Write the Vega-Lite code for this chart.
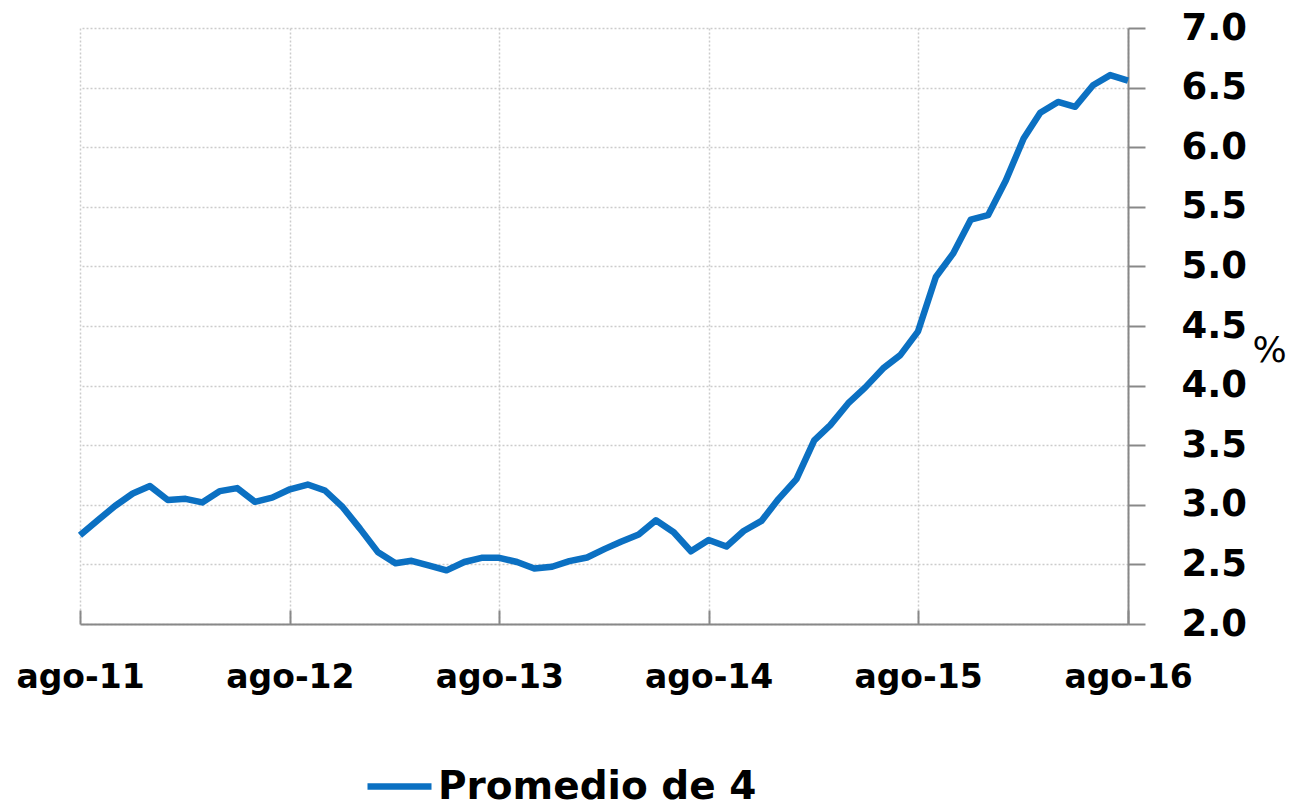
{
  "$schema": "https://vega.github.io/schema/vega-lite/v6.json",
  "autosize": {"type": "none"},
  "padding": {"left": 80, "top": 28, "right": 166, "bottom": 183},
  "width": 1048,
  "height": 596,
  "background": "white",
  "config": {
    "view": {"stroke": null},
    "font": "DejaVu Sans"
  },
  "data": {
    "values": [
      {"fecha": "2011-08-01", "valor": 2.745, "serie": "Promedio de 4"},
      {"fecha": "2011-09-01", "valor": 2.87, "serie": "Promedio de 4"},
      {"fecha": "2011-10-01", "valor": 2.99, "serie": "Promedio de 4"},
      {"fecha": "2011-11-01", "valor": 3.095, "serie": "Promedio de 4"},
      {"fecha": "2011-12-01", "valor": 3.157, "serie": "Promedio de 4"},
      {"fecha": "2012-01-01", "valor": 3.04, "serie": "Promedio de 4"},
      {"fecha": "2012-02-01", "valor": 3.05, "serie": "Promedio de 4"},
      {"fecha": "2012-03-01", "valor": 3.02, "serie": "Promedio de 4"},
      {"fecha": "2012-04-01", "valor": 3.115, "serie": "Promedio de 4"},
      {"fecha": "2012-05-01", "valor": 3.14, "serie": "Promedio de 4"},
      {"fecha": "2012-06-01", "valor": 3.025, "serie": "Promedio de 4"},
      {"fecha": "2012-07-01", "valor": 3.06, "serie": "Promedio de 4"},
      {"fecha": "2012-08-01", "valor": 3.13, "serie": "Promedio de 4"},
      {"fecha": "2012-09-01", "valor": 3.17, "serie": "Promedio de 4"},
      {"fecha": "2012-10-01", "valor": 3.12, "serie": "Promedio de 4"},
      {"fecha": "2012-11-01", "valor": 2.98, "serie": "Promedio de 4"},
      {"fecha": "2012-12-01", "valor": 2.8, "serie": "Promedio de 4"},
      {"fecha": "2013-01-01", "valor": 2.605, "serie": "Promedio de 4"},
      {"fecha": "2013-02-01", "valor": 2.51, "serie": "Promedio de 4"},
      {"fecha": "2013-03-01", "valor": 2.53, "serie": "Promedio de 4"},
      {"fecha": "2013-04-01", "valor": 2.49, "serie": "Promedio de 4"},
      {"fecha": "2013-05-01", "valor": 2.45, "serie": "Promedio de 4"},
      {"fecha": "2013-06-01", "valor": 2.52, "serie": "Promedio de 4"},
      {"fecha": "2013-07-01", "valor": 2.555, "serie": "Promedio de 4"},
      {"fecha": "2013-08-01", "valor": 2.555, "serie": "Promedio de 4"},
      {"fecha": "2013-09-01", "valor": 2.52, "serie": "Promedio de 4"},
      {"fecha": "2013-10-01", "valor": 2.465, "serie": "Promedio de 4"},
      {"fecha": "2013-11-01", "valor": 2.48, "serie": "Promedio de 4"},
      {"fecha": "2013-12-01", "valor": 2.527, "serie": "Promedio de 4"},
      {"fecha": "2014-01-01", "valor": 2.558, "serie": "Promedio de 4"},
      {"fecha": "2014-02-01", "valor": 2.63, "serie": "Promedio de 4"},
      {"fecha": "2014-03-01", "valor": 2.69, "serie": "Promedio de 4"},
      {"fecha": "2014-04-01", "valor": 2.75, "serie": "Promedio de 4"},
      {"fecha": "2014-05-01", "valor": 2.87, "serie": "Promedio de 4"},
      {"fecha": "2014-06-01", "valor": 2.77, "serie": "Promedio de 4"},
      {"fecha": "2014-07-01", "valor": 2.61, "serie": "Promedio de 4"},
      {"fecha": "2014-08-01", "valor": 2.705, "serie": "Promedio de 4"},
      {"fecha": "2014-09-01", "valor": 2.65, "serie": "Promedio de 4"},
      {"fecha": "2014-10-01", "valor": 2.78, "serie": "Promedio de 4"},
      {"fecha": "2014-11-01", "valor": 2.865, "serie": "Promedio de 4"},
      {"fecha": "2014-12-01", "valor": 3.05, "serie": "Promedio de 4"},
      {"fecha": "2015-01-01", "valor": 3.215, "serie": "Promedio de 4"},
      {"fecha": "2015-02-01", "valor": 3.54, "serie": "Promedio de 4"},
      {"fecha": "2015-03-01", "valor": 3.668, "serie": "Promedio de 4"},
      {"fecha": "2015-04-01", "valor": 3.85, "serie": "Promedio de 4"},
      {"fecha": "2015-05-01", "valor": 3.985, "serie": "Promedio de 4"},
      {"fecha": "2015-06-01", "valor": 4.144, "serie": "Promedio de 4"},
      {"fecha": "2015-07-01", "valor": 4.256, "serie": "Promedio de 4"},
      {"fecha": "2015-08-01", "valor": 4.455, "serie": "Promedio de 4"},
      {"fecha": "2015-09-01", "valor": 4.911, "serie": "Promedio de 4"},
      {"fecha": "2015-10-01", "valor": 5.107, "serie": "Promedio de 4"},
      {"fecha": "2015-11-01", "valor": 5.393, "serie": "Promedio de 4"},
      {"fecha": "2015-12-01", "valor": 5.43, "serie": "Promedio de 4"},
      {"fecha": "2016-01-01", "valor": 5.72, "serie": "Promedio de 4"},
      {"fecha": "2016-02-01", "valor": 6.073, "serie": "Promedio de 4"},
      {"fecha": "2016-03-01", "valor": 6.289, "serie": "Promedio de 4"},
      {"fecha": "2016-04-01", "valor": 6.38, "serie": "Promedio de 4"},
      {"fecha": "2016-05-01", "valor": 6.339, "serie": "Promedio de 4"},
      {"fecha": "2016-06-01", "valor": 6.52, "serie": "Promedio de 4"},
      {"fecha": "2016-07-01", "valor": 6.605, "serie": "Promedio de 4"},
      {"fecha": "2016-08-01", "valor": 6.558, "serie": "Promedio de 4"}
    ]
  },
  "mark": {"type": "line", "strokeWidth": 6.5, "strokeJoin": "round", "strokeCap": "butt"},
  "encoding": {
    "x": {
      "field": "fecha",
      "type": "temporal",
      "scale": {
        "type": "utc",
        "domain": [
          {"year": 2011, "month": 8, "date": 1, "utc": true},
          {"year": 2016, "month": 8, "date": 1, "utc": true}
        ]
      },
      "axis": {
        "title": null,
        "values": [
          {"year": 2011, "month": 8, "date": 1, "utc": true},
          {"year": 2012, "month": 8, "date": 1, "utc": true},
          {"year": 2013, "month": 8, "date": 1, "utc": true},
          {"year": 2014, "month": 8, "date": 1, "utc": true},
          {"year": 2015, "month": 8, "date": 1, "utc": true},
          {"year": 2016, "month": 8, "date": 1, "utc": true}
        ],
        "labelExpr": "'ago-' + utcFormat(datum.value, '%y')",
        "labelFont": "DejaVu Sans",
        "labelFontWeight": "bold",
        "labelFontSize": 33,
        "labelColor": "#000000",
        "labelPadding": 51,
        "labelFlush": false,
        "labelOverlap": false,
        "tickSize": -14,
        "tickColor": "#888888",
        "tickWidth": 2,
        "domainColor": "#888888",
        "domainWidth": 2,
        "grid": true,
        "gridColor": "#cccccc",
        "gridDash": [2, 2],
        "gridWidth": 1.5
      }
    },
    "y": {
      "field": "valor",
      "type": "quantitative",
      "scale": {"domain": [2, 7], "nice": false, "zero": false},
      "axis": {
        "orient": "right",
        "values": [2, 2.5, 3, 3.5, 4, 4.5, 5, 5.5, 6, 6.5, 7],
        "format": ".1f",
        "labelFont": "DejaVu Sans",
        "labelFontWeight": "bold",
        "labelFontSize": 37,
        "labelColor": "#000000",
        "labelPadding": 36,
        "labelFlush": false,
        "labelOverlap": false,
        "tickSize": 17,
        "tickColor": "#888888",
        "tickWidth": 2,
        "domainColor": "#888888",
        "domainWidth": 2,
        "grid": true,
        "gridColor": "#cccccc",
        "gridDash": [2, 2],
        "gridWidth": 1.5,
        "title": "%",
        "titleAngle": 0,
        "titleX": 141,
        "titleY": 322,
        "titleAlign": "center",
        "titleBaseline": "middle",
        "titleFont": "DejaVu Sans",
        "titleFontSize": 36,
        "titleFontWeight": "normal",
        "titleColor": "#000000"
      }
    },
    "color": {
      "field": "serie",
      "type": "nominal",
      "scale": {"range": ["#0B70C2"]},
      "legend": {
        "title": null,
        "orient": "none",
        "legendX": 284,
        "legendY": 723,
        "symbolType": "stroke",
        "symbolSize": 4096,
        "symbolStrokeWidth": 6.5,
        "labelFont": "DejaVu Sans",
        "labelFontWeight": "bold",
        "labelFontSize": 39,
        "labelColor": "#000000",
        "labelOffset": 3,
        "labelLimit": 600
      }
    }
  }
}
